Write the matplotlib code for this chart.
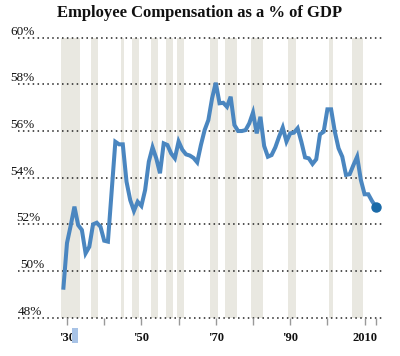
import matplotlib
matplotlib.use("Agg")
import matplotlib.pyplot as plt
import matplotlib.patches as mpatches
import matplotlib.transforms as mtransforms

# Data
years = list(range(1929, 2014))
comp_share = [
    49.2, 51.2, 51.95, 52.76, 51.97, 51.76, 50.76, 51.04, 52.0, 52.07,
    51.9, 51.3, 51.26, 53.4, 55.54, 55.43, 55.43, 53.83, 53.04, 52.58,
    52.97, 52.79, 53.47, 54.69, 55.3, 54.83, 54.19, 55.47, 55.4, 55.04,
    54.83, 55.55, 55.2, 55.0, 54.95, 54.85, 54.66, 55.4, 56.04, 56.47,
    57.4, 58.07, 57.19, 57.21, 57.04, 57.47, 56.26, 56.0, 56.0, 56.04,
    56.33, 56.79, 55.9, 56.61, 55.36, 54.9, 54.97, 55.3, 55.75, 56.15,
    55.55, 55.9, 55.93, 56.12, 55.54, 54.87, 54.83, 54.59, 54.79, 55.86,
    55.97, 56.93, 56.93, 55.97, 55.26, 54.9, 54.12, 54.15, 54.54, 54.9,
    53.9, 53.29, 53.29, 53.0, 52.76,
]
recession_start = [1928.4, 1936.5, 1944.4, 1947.5, 1952.5, 1956.5, 1959.5,
                   1968.5, 1972.5, 1979.5, 1989.5, 2000.5, 2006.6]
recession_end = [1933.5, 1938.4, 1945.4, 1949.4, 1954.4, 1958.5, 1961.5,
                 1970.6, 1975.6, 1982.6, 1991.6, 2001.6, 2009.6]
y_ticks = [48, 50, 52, 54, 56, 58, 60]
y_labels = ['48%', '50%', '52%', '54%', '56%', '58%', '60%']
x_major = [1930, 1950, 1970, 1990, 2010]
x_major_labels = ["'30", "'50", "'70", "'90", "2010"]
x_minor = [1940, 1960, 1980, 2000, 2013]

W, H = 400, 356
plt.rcParams['font.family'] = ['Liberation Serif', 'DejaVu Serif']

fig = plt.figure(figsize=(W / 100, H / 100), dpi=100)
fig.patch.set_facecolor('white')
ax = fig.add_axes([18 / W, 1 - 317.7 / H, (382 - 18) / W, (317.7 - 37.7) / H])

ax.set_xlim(1916.83, 2014.68)
ax.set_ylim(48, 60)

# recession bands
for s, e in zip(recession_start, recession_end):
    ax.axvspan(s, e, color='#e9e8e1', lw=0, zorder=0)

# dotted gridlines
for v in y_ticks:
    ax.axhline(v, color='#222222', lw=1.1, ls=(0, (1, 2.2)), zorder=1, clip_on=False)

ax.plot(years, comp_share, color='#4a86c0', lw=2.9, solid_joinstyle='miter',
        solid_capstyle='butt', zorder=3)
ax.plot(years[-1], comp_share[-1], 'o', color='#1a6aa8', ms=6.5, zorder=4)

# y labels sitting on the gridlines (slightly jittered like the original)
label_x_px = {48: 18, 50: 20, 52: 16, 54: 10, 56: 10, 58: 10, 60: 10}
trans = mtransforms.blended_transform_factory(fig.transFigure, ax.transData)
for v, lab in zip(y_ticks, y_labels):
    ax.text(label_x_px[v] / W, v, lab, transform=trans, ha='left', va='bottom',
            fontsize=9.5, color='#111111')

for side in ['top', 'right', 'left', 'bottom']:
    ax.spines[side].set_visible(False)
ax.set_yticks([])
ax.set_xticks(x_major)
ax.set_xticklabels(x_major_labels, fontsize=9, fontweight='bold', color='#111111')
ax.set_xticks(x_minor, minor=True)
ax.tick_params(axis='x', which='both', length=5, width=1, color='#999999', pad=5)

# little slider handle under '30
fig.patches.append(mpatches.Rectangle((71.7 / W, 1 - 343 / H), 6.6 / W, 15 / H,
                                      transform=fig.transFigure, facecolor='#a8c3e6',
                                      edgecolor='none'))

fig.text(0.5, 1 - 13 / H, 'Employee Compensation as a % of GDP', ha='center', va='center',
         fontsize=12, fontweight='bold', color='#111111')

fig.savefig('out.png', dpi=100)
